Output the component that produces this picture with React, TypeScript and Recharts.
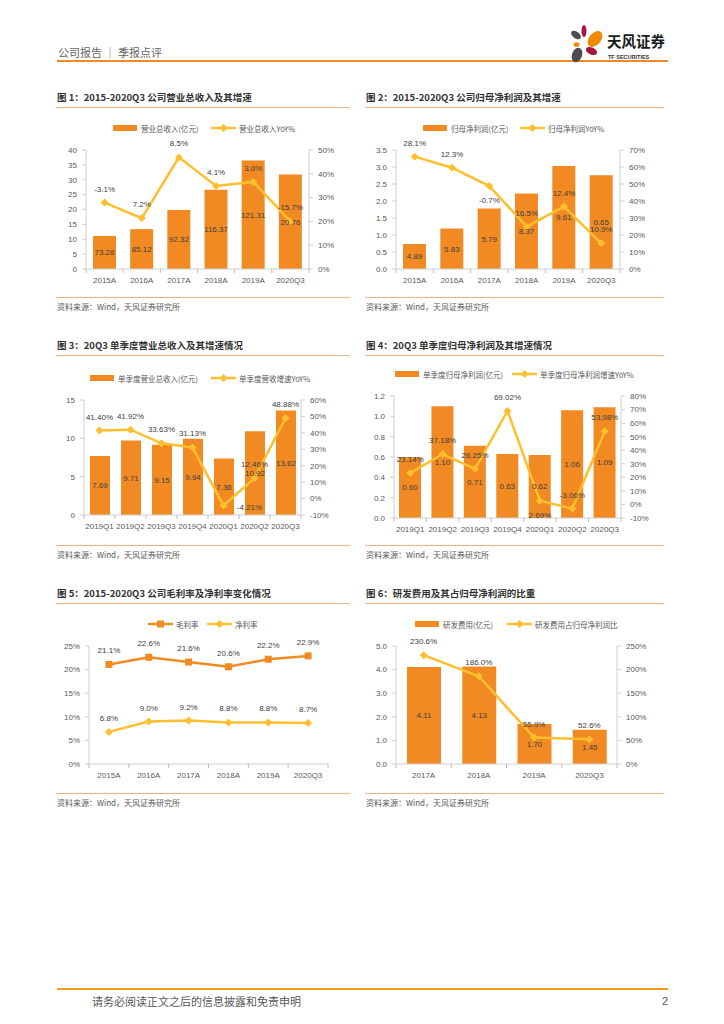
import React from "react";
import { ComposedChart, Bar, Line, XAxis, YAxis, LabelList } from "recharts";

const FONT = '"Liberation Sans", Arial, "Noto Sans CJK SC", sans-serif';
const CJK = '"Noto Sans CJK SC", "Liberation Sans", sans-serif';
const ORANGE = "#F18A23";
const GOLD = "#FDBF2D";
const AXIS = "#CFCFCF";
const TICK = "#595959";
const LABEL = "#404040";
const RULE = "#F5B07A";

// categories
const years = ["2015A", "2016A", "2017A", "2018A", "2019A", "2020Q3"];
const quarters = ["2019Q1", "2019Q2", "2019Q3", "2019Q4", "2020Q1", "2020Q2", "2020Q3"];
const rdYears = ["2017A", "2018A", "2019A", "2020Q3"];

// 图1 营业总收入
const revenueBars = [11.1, 13.4, 19.8, 26.6, 36.5, 31.8];
const revenueBarText = ["73.28", "85.12", "92.32", "116.37", "121.31", "20.76"];
const revenueYoy = [27.9, 21.4, 46.9, 34.9, 36.6, 20.0];
const revenueYoyText = ["-3.1%", "7.2%", "8.5%", "4.1%", "3.0%", "-15.7%"];

// 图2 归母净利润
const profitBars = [0.735, 1.19, 1.78, 2.22, 3.03, 2.76];
const profitBarText = ["4.89", "5.83", "5.79", "8.37", "9.61", "0.65"];
const profitYoy = [66.1, 59.6, 48.8, 24.9, 36.7, 15.1];
const profitYoyText = ["28.1%", "12.3%", "-0.7%", "16.5%", "12.4%", "10.9%"];

// 图3 单季度营业总收入
const qRevenue = [7.69, 9.71, 9.15, 9.94, 7.36, 10.92, 13.62];
const qRevenueYoy = [41.4, 41.92, 33.63, 31.13, -4.21, 12.46, 48.88];

// 图4 单季度归母净利润
const qProfit = [0.6, 1.1, 0.71, 0.63, 0.62, 1.06, 1.09];
const qProfitYoy = [23.14, 37.18, 26.25, 69.02, 2.69, -3.06, 53.98];

// 图5 毛利率 / 净利率
const grossMargin = [21.1, 22.6, 21.6, 20.6, 22.2, 22.9];
const netMargin = [6.8, 9.0, 9.2, 8.8, 8.8, 8.7];

// 图6 研发费用
const rdExpense = [4.11, 4.13, 1.7, 1.45];
const rdRatio = [230.6, 186.0, 55.9, 52.6];

// axis ticks
const ticks40 = [0, 5, 10, 15, 20, 25, 30, 35, 40];
const ticks50p = [0, 10, 20, 30, 40, 50];
const ticks35 = [0, 0.5, 1, 1.5, 2, 2.5, 3, 3.5];
const ticks70p = [0, 10, 20, 30, 40, 50, 60, 70];
const ticks15 = [0, 5, 10, 15];
const ticks60p = [-10, 0, 10, 20, 30, 40, 50, 60];
const ticks12 = [0, 0.2, 0.4, 0.6, 0.8, 1.0, 1.2];
const ticks80p = [-10, 0, 10, 20, 30, 40, 50, 60, 70, 80];
const ticks25p = [0, 5, 10, 15, 20, 25];
const ticks5 = [0, 1, 2, 3, 4, 5];
const ticks250p = [0, 50, 100, 150, 200, 250];

type Place = "top" | "bottom" | "right";

const fix1 = (v: number) => v.toFixed(1);
const int = (v: number) => String(v);
const pct = (v: number) => `${v}%`;

function diamondDot(color: string, r: number) {
  return (p: any) => {
    if (p.cx == null || p.cy == null) return <g key={p.index} />;
    return (
      <path
        key={p.index}
        d={`M${p.cx},${p.cy - r}L${p.cx + r},${p.cy}L${p.cx},${p.cy + r}L${p.cx - r},${p.cy}Z`}
        fill={color}
      />
    );
  };
}

function squareDot(color: string, r: number) {
  return (p: any) => {
    if (p.cx == null || p.cy == null) return <g key={p.index} />;
    return <rect key={p.index} x={p.cx - r} y={p.cy - r} width={r * 2} height={r * 2} fill={color} />;
  };
}

function lineLabel(texts: string[], places: Record<number, Place> = {}) {
  return (props: any) => {
    const vb = props.viewBox || {};
    const x = vb.x ?? props.x;
    const y = vb.y ?? props.y;
    if (x == null || y == null) return null;
    const idx = texts.indexOf(String(props.value));
    const place = places[idx] || "top";
    let tx = x;
    let ty = y - 11;
    if (place === "bottom") ty = y + 17;
    if (place === "right") {
      tx = x + 26;
      ty = y + 5;
    }
    return (
      <text x={tx} y={ty} textAnchor="middle" fontSize={8} fill={LABEL} fontFamily={FONT}>
        {props.value}
      </text>
    );
  };
}

// category tick with Excel-style marks on the band edges
function bandTick(axisY: number, band: number, count: number) {
  return (props: any) => {
    const { x, y, payload, index } = props;
    const i = index ?? payload?.index ?? 0;
    return (
      <g>
        <text x={x} y={y} dy="0.71em" textAnchor="middle" fontSize={8} fill={TICK} fontFamily={FONT}>
          {payload.value}
        </text>
        <line x1={x - band / 2} x2={x - band / 2} y1={axisY} y2={axisY + 4} stroke="#BDBDBD" />
        {i === count - 1 && <line x1={x + band / 2} x2={x + band / 2} y1={axisY} y2={axisY + 4} stroke="#BDBDBD" />}
      </g>
    );
  };
}

interface DualProps {
  colLeft: number;
  colRight: number;
  plotLeft: number;
  plotRight: number;
  plotTop: number;
  plotBottom: number;
  categories: string[];
  bars: number[];
  barText: string[];
  barSize: number;
  line: number[];
  lineText: string[];
  places?: Record<number, Place>;
  leftDomain: [number, number];
  leftTicks: number[];
  leftFmt: (v: number) => string;
  rightDomain: [number, number];
  rightTicks: number[];
}

const tickStyle = { fontSize: 8, fill: TICK, fontFamily: FONT };

function DualChart(p: DualProps) {
  const data = p.categories.map((name, i) => ({
    name,
    bar: p.bars[i],
    barText: p.barText[i],
    line: p.line[i],
    lineText: p.lineText[i],
  }));
  const top = p.plotTop - 40;
  const width = p.colRight - p.colLeft;
  const height = p.plotBottom - top + 26;
  const band = (p.plotRight - p.plotLeft) / p.categories.length;
  return (
    <div style={{ position: "absolute", left: p.colLeft, top, width, height }}>
      <ComposedChart width={width} height={height} data={data} margin={{ top: 40, right: 0, bottom: 6, left: 0 }}>
        <XAxis
          dataKey="name"
          height={20}
          interval={0}
          tickLine={false}
          tickSize={4}
          tickMargin={4}
          axisLine={{ stroke: AXIS }}
          tick={bandTick(p.plotBottom - top, band, p.categories.length)}
        />
        <YAxis
          yAxisId="l"
          width={p.plotLeft - p.colLeft}
          domain={p.leftDomain}
          ticks={p.leftTicks}
          tickFormatter={p.leftFmt}
          interval={0}
          tickSize={4}
          tickMargin={5}
          tickLine={{ stroke: AXIS }}
          axisLine={{ stroke: AXIS }}
          tick={tickStyle}
        />
        <YAxis
          yAxisId="r"
          orientation="right"
          width={p.colRight - p.plotRight}
          domain={p.rightDomain}
          ticks={p.rightTicks}
          tickFormatter={pct}
          interval={0}
          tickSize={4}
          tickMargin={5}
          tickLine={{ stroke: AXIS }}
          axisLine={{ stroke: AXIS }}
          tick={tickStyle}
        />
        <Bar yAxisId="l" dataKey="bar" fill={ORANGE} barSize={p.barSize} isAnimationActive={false}>
          <LabelList dataKey="barText" position="center" fill={LABEL} fontSize={8} fontFamily={FONT} />
        </Bar>
        <Line
          yAxisId="r"
          type="linear"
          dataKey="line"
          stroke={GOLD}
          strokeWidth={2.5}
          dot={diamondDot(GOLD, 4)}
          activeDot={false}
          isAnimationActive={false}
        >
          <LabelList dataKey="lineText" content={lineLabel(p.lineText, p.places)} />
        </Line>
      </ComposedChart>
    </div>
  );
}

function MarginChart() {
  const data = years.map((name, i) => ({
    name,
    gross: grossMargin[i],
    grossText: grossMargin[i].toFixed(1) + "%",
    net: netMargin[i],
    netText: netMargin[i].toFixed(1) + "%",
  }));
  const colLeft = 56;
  const colRight = 350;
  const plotLeft = 89;
  const plotRight = 328;
  const plotTop = 646;
  const plotBottom = 764;
  const top = plotTop - 40;
  const width = colRight - colLeft;
  const height = plotBottom - top + 26;
  const band = (plotRight - plotLeft) / years.length;
  return (
    <div style={{ position: "absolute", left: colLeft, top, width, height }}>
      <ComposedChart
        width={width}
        height={height}
        data={data}
        margin={{ top: 40, right: colRight - plotRight, bottom: 6, left: 0 }}
      >
        <XAxis
          dataKey="name"
          scale="band"
          height={20}
          interval={0}
          tickLine={false}
          tickSize={4}
          tickMargin={4}
          axisLine={{ stroke: AXIS }}
          tick={bandTick(plotBottom - top, band, years.length)}
        />
        <YAxis
          width={plotLeft - colLeft}
          domain={[0, 25]}
          ticks={ticks25p}
          tickFormatter={pct}
          interval={0}
          tickSize={4}
          tickMargin={5}
          tickLine={{ stroke: AXIS }}
          axisLine={{ stroke: AXIS }}
          tick={tickStyle}
        />
        <Line
          type="linear"
          dataKey="gross"
          stroke={ORANGE}
          strokeWidth={2.5}
          dot={squareDot(ORANGE, 3.5)}
          activeDot={false}
          isAnimationActive={false}
        >
          <LabelList dataKey="grossText" content={lineLabel(data.map((d) => d.grossText))} />
        </Line>
        <Line
          type="linear"
          dataKey="net"
          stroke={GOLD}
          strokeWidth={2.5}
          dot={diamondDot(GOLD, 4)}
          activeDot={false}
          isAnimationActive={false}
        >
          <LabelList dataKey="netText" content={lineLabel(data.map((d) => d.netText))} />
        </Line>
      </ComposedChart>
    </div>
  );
}

function Panel({ x0, x1, y, title }: { x0: number; x1: number; y: number; title: string }) {
  // y = vertical centre of the title
  return (
    <>
      <div
        style={{
          position: "absolute",
          left: x0 + 1,
          top: y - 7,
          height: 14,
          lineHeight: "14px",
          fontSize: 9.5,
          fontWeight: 700,
          color: "#333",
          fontFamily: CJK,
          whiteSpace: "nowrap",
        }}
      >
        {title}
      </div>
      <div style={{ position: "absolute", left: x0, top: y + 10, width: x1 - x0, height: 1, background: RULE }} />
      <div style={{ position: "absolute", left: x0, top: y + 200, width: x1 - x0, height: 1, background: RULE }} />
      <div
        style={{
          position: "absolute",
          left: x0 + 1,
          top: y + 204,
          height: 12,
          lineHeight: "12px",
          fontSize: 8,
          color: TICK,
          fontFamily: CJK,
          whiteSpace: "nowrap",
        }}
      >
        资料来源：Wind，天风证券研究所
      </div>
    </>
  );
}

type Swatch = "bar" | "diamond" | "square";

function LegendItem({ x, y, kind, color, text }: { x: number; y: number; kind: Swatch; color: string; text: string }) {
  return (
    <div
      style={{
        position: "absolute",
        left: x,
        top: y - 6,
        height: 12,
        display: "flex",
        alignItems: "center",
        whiteSpace: "nowrap",
        fontSize: 7.5,
        color: TICK,
        fontFamily: CJK,
      }}
    >
      <svg width={25} height={12} style={{ marginRight: 3 }}>
        {kind === "bar" && <rect x={0} y={3} width={24} height={6} fill={color} />}
        {kind !== "bar" && <line x1={0} y1={6} x2={25} y2={6} stroke={color} strokeWidth={2.5} />}
        {kind === "diamond" && <path d="M12.5,2L16.5,6L12.5,10L8.5,6Z" fill={color} />}
        {kind === "square" && <rect x={9} y={2.5} width={7} height={7} fill={color} />}
      </svg>
      {text}
    </div>
  );
}

function Logo() {
  return (
    <>
      <svg width={42} height={46} style={{ position: "absolute", left: 566, top: 20 }}>
        <ellipse cx={18} cy={11} rx={2.5} ry={6} fill="#A6173C" />
        <ellipse cx={10} cy={15} rx={5.5} ry={3.3} fill="#4D4D4D" transform="rotate(35 10 15)" />
        <ellipse cx={29} cy={19} rx={6} ry={9} fill="#F08A00" transform="rotate(40 29 19)" />
        <ellipse cx={10.5} cy={24.5} rx={3} ry={2.3} fill="#F08A00" />
        <ellipse cx={25.5} cy={31} rx={6} ry={3.5} fill="#A6173C" transform="rotate(25 25.5 31)" />
        <ellipse cx={11} cy={35} rx={5} ry={7.5} fill="#4D4D4D" transform="rotate(20 11 35)" />
      </svg>
      <div
        style={{
          position: "absolute",
          left: 607,
          top: 32,
          fontSize: 14.5,
          lineHeight: "18px",
          fontWeight: 700,
          color: "#1a1a1a",
          fontFamily: CJK,
          whiteSpace: "nowrap",
        }}
      >
        天风证券
      </div>
      <div
        style={{
          position: "absolute",
          left: 608,
          top: 53,
          fontSize: 5.5,
          lineHeight: "8px",
          fontWeight: 700,
          color: "#333",
          fontFamily: FONT,
          whiteSpace: "nowrap",
        }}
      >
        TF SECURITIES
      </div>
    </>
  );
}

export default function App() {
  return (
    <div
      style={{
        position: "absolute",
        left: 0,
        top: 0,
        width: 724,
        height: 1024,
        background: "#fff",
        fontFamily: CJK,
        overflow: "hidden",
      }}
    >
      {/* page header */}
      <div
        style={{
          position: "absolute",
          left: 58,
          top: 44,
          fontSize: 11,
          lineHeight: "16px",
          color: "#666",
          whiteSpace: "nowrap",
        }}
      >
        公司报告 ｜ 季报点评
      </div>
      <div style={{ position: "absolute", left: 57, top: 60, width: 611, height: 2, background: "#F08A24" }} />
      <Logo />

      {/* row 1 */}
      <Panel x0={56} x1={350} y={97} title="图 1：2015-2020Q3 公司营业总收入及其增速" />
      <Panel x0={365} x1={664} y={97} title="图 2：2015-2020Q3 公司归母净利润及其增速" />
      <LegendItem x={113} y={128} kind="bar" color={ORANGE} text="营业总收入(亿元)" />
      <LegendItem x={211} y={128} kind="diamond" color={GOLD} text="营业总收入YoY%" />
      <LegendItem x={423} y={128} kind="bar" color={ORANGE} text="归母净利润(亿元)" />
      <LegendItem x={520} y={128} kind="diamond" color={GOLD} text="归母净利润YoY%" />
      <DualChart
        colLeft={56}
        colRight={350}
        plotLeft={86}
        plotRight={309}
        plotTop={150}
        plotBottom={269}
        categories={years}
        bars={revenueBars}
        barText={revenueBarText}
        barSize={23}
        line={revenueYoy}
        lineText={revenueYoyText}
        leftDomain={[0, 40]}
        leftTicks={ticks40}
        leftFmt={int}
        rightDomain={[0, 50]}
        rightTicks={ticks50p}
      />
      <DualChart
        colLeft={365}
        colRight={664}
        plotLeft={396}
        plotRight={620}
        plotTop={150}
        plotBottom={269}
        categories={years}
        bars={profitBars}
        barText={profitBarText}
        barSize={23}
        line={profitYoy}
        lineText={profitYoyText}
        places={{ 2: "bottom" }}
        leftDomain={[0, 3.5]}
        leftTicks={ticks35}
        leftFmt={fix1}
        rightDomain={[0, 70]}
        rightTicks={ticks70p}
      />

      {/* row 2 */}
      <Panel x0={56} x1={350} y={345} title="图 3：20Q3 单季度营业总收入及其增速情况" />
      <Panel x0={365} x1={664} y={345} title="图 4：20Q3 单季度归母净利润及其增速情况" />
      <LegendItem x={90} y={378} kind="bar" color={ORANGE} text="单季度营业总收入(亿元)" />
      <LegendItem x={211} y={378} kind="diamond" color={GOLD} text="单季度营收增速YoY%" />
      <LegendItem x={395} y={374} kind="bar" color={ORANGE} text="单季度归母净利润(亿元)" />
      <LegendItem x={512} y={374} kind="diamond" color={GOLD} text="单季度归母净利润增速YoY%" />
      <DualChart
        colLeft={56}
        colRight={350}
        plotLeft={84}
        plotRight={301}
        plotTop={400}
        plotBottom={515}
        categories={quarters}
        bars={qRevenue}
        barText={qRevenue.map((v) => v.toFixed(2))}
        barSize={20}
        line={qRevenueYoy}
        lineText={qRevenueYoy.map((v) => v.toFixed(2) + "%")}
        places={{ 4: "right" }}
        leftDomain={[0, 15]}
        leftTicks={ticks15}
        leftFmt={int}
        rightDomain={[-10, 60]}
        rightTicks={ticks60p}
      />
      <DualChart
        colLeft={365}
        colRight={664}
        plotLeft={394}
        plotRight={621}
        plotTop={396}
        plotBottom={518}
        categories={quarters}
        bars={qProfit}
        barText={qProfit.map((v) => v.toFixed(2))}
        barSize={22}
        line={qProfitYoy}
        lineText={qProfitYoy.map((v) => v.toFixed(2) + "%")}
        places={{ 4: "bottom" }}
        leftDomain={[0, 1.2]}
        leftTicks={ticks12}
        leftFmt={fix1}
        rightDomain={[-10, 80]}
        rightTicks={ticks80p}
      />

      {/* row 3 */}
      <Panel x0={56} x1={350} y={593} title="图 5：2015-2020Q3 公司毛利率及净利率变化情况" />
      <Panel x0={365} x1={664} y={593} title="图 6：研发费用及其占归母净利润的比重" />
      <LegendItem x={148} y={624} kind="square" color={ORANGE} text="毛利率" />
      <LegendItem x={207} y={624} kind="diamond" color={GOLD} text="净利率" />
      <LegendItem x={415} y={624} kind="bar" color={ORANGE} text="研发费用(亿元)" />
      <LegendItem x={507} y={624} kind="diamond" color={GOLD} text="研发费用占归母净利润比" />
      <MarginChart />
      <DualChart
        colLeft={365}
        colRight={664}
        plotLeft={396}
        plotRight={617}
        plotTop={646}
        plotBottom={764}
        categories={rdYears}
        bars={rdExpense}
        barText={rdExpense.map((v) => v.toFixed(2))}
        barSize={34}
        line={rdRatio}
        lineText={rdRatio.map((v) => v.toFixed(1) + "%")}
        leftDomain={[0, 5]}
        leftTicks={ticks5}
        leftFmt={fix1}
        rightDomain={[0, 250]}
        rightTicks={ticks250p}
      />

      {/* page footer */}
      <div style={{ position: "absolute", left: 57, top: 988, width: 611, height: 2, background: "#F29B1D" }} />
      <div
        style={{
          position: "absolute",
          left: 92,
          top: 993,
          fontSize: 11,
          lineHeight: "16px",
          color: TICK,
          whiteSpace: "nowrap",
        }}
      >
        请务必阅读正文之后的信息披露和免责申明
      </div>
      <div
        style={{
          position: "absolute",
          left: 662,
          top: 993,
          fontSize: 11,
          lineHeight: "16px",
          color: TICK,
          fontFamily: FONT,
        }}
      >
        2
      </div>
    </div>
  );
}
